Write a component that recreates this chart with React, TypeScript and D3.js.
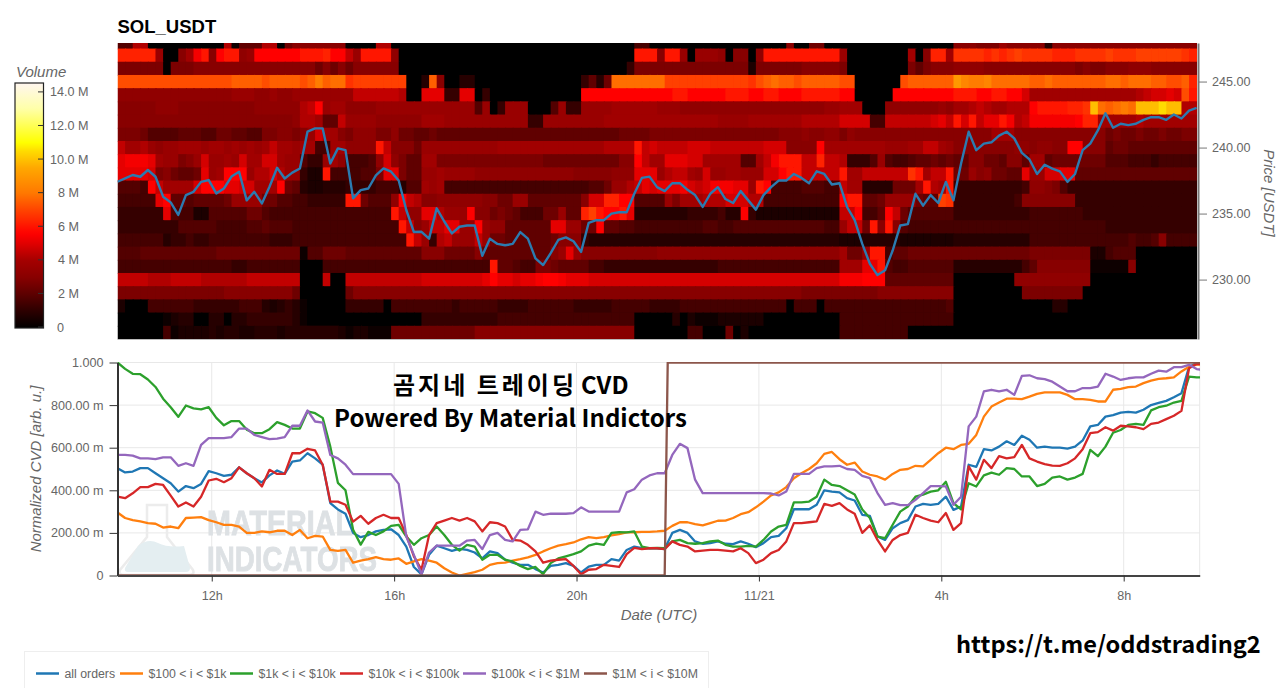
import { useEffect, useRef } from "react";
import * as d3 from "d3";

// one string per price level (top to bottom), one character per 10 min column
// base 36 digit, multiplied by volumeStep to get the volume in millions
const volumeStep = 0.3;
const volumeRows = [
  "66ee000000 0000e1777e e08aaaaaaa 0000ee0000 0000000000 0000000000 0000000055 0000000000 00000000a0 0880000000 0000000000 aaa999caaa aa3aaaaaaa aaaaaaaaaa aa",
  "lllllc00ad ikajkkbcjj jjjjkkkljj fckkkkb000 0000000000 0000000000 00000000kk kakkc0cccb 0aa0bkkkkk kkkkkc0000 0000d0alld mmmmlmlmnm mmmlllmmmm nmmmnnnnnn ml",
  "9999990999 aaaaaaaaaa aaaaaa8a8a 8aaaaaa000 0000000000 0000000000 0000000499 9999999999 9992999999 aaaaa90000 0000979aaa bbbbaaaaaa aaaaaa9a99 aaabbbaaaa aa",
  "oooooooooo oooooppppo ppppoprpqq mnnnnnnn00 3pa0033000 0000000000 04738qqqqq qqnnnnnnnn nnnmopqppo pppppoo000 000opppppp usrrsqqqqq ppqppppppp qqpqqqppoo pl",
  "bbbbbbbbbb bbbbbcccbb cbbccccccc cffffffe00 hhh44hh040 0000000000 0jjjjjjjjj jjjkkjjjjj kkkjjkkjjj kkkkkjj000 00jjjjjjjj kkkjjkkjjg dddddddddd ddddefgghg ok",
  "aaaaabbbaa aaaaaaaabb bbbbefjcdd bbbbcccccc ccccccc6c0 4ccc0006c4 4ccccddddd dcccbbbbbb bbbbbbbbbb bbbccddd00 0bbbbbbbcb ddefeddeee jkkkkllmxq pqrqxxxzxx ee",
  "aaaaaaaaaa aaaaaaaaaa aaabeed77f ccccbbbbbb dddccccccc cccc44cccc ccccdddddd dddddddddc cccddddddd eeeeegggg5 5ffffffghf kgkfhhkief iiiiiijlld ddddeddddd dd",
  "9998666677 7668877669 9aa9acgdda 9bbb99b887 7877777777 7777777777 7777778888 9999999999 9999999aaa baabb9baaa aaaaaaaaaa aaaaadddaa aaaaaaaaaa 8988988988 99",
  "fddecbccdd dcddcdcdcd fddcdd55dd bbbbkfaaa8 cccccccccc dddddddddd ddddeeeekf gffffgggff fffffgggaa aajddddddd dcccddffdc aaaaaaaabb abbaajjaaa 7887777777 77",
  "hiiihdcc9a cgccdcgddg gdcc644cdb 5556bgb977 dd99999999 9999998888 888888aajf ddhhhggddd dd66dfikkk fflffe4446 c655677878 77aa887aa7 dd78888888 6665554555 55",
  "hhhhg9a877 8hcdjjjcee gecc422k55 55669hh977 ccdccccbbb bbbbbbbbbb aaaaabbbhh hceffdcgcc ddcccggjkk fffffkddff ffffmkdffk 88cab8877h ccgghh7777 7777777777 77",
  "6665jfdddd gjjjhhggdd dj87322333 4444555366 dcd5555555 5555555555 55668ccefh ghhhigfgii ihhckj5555 66655fdd33 33888dkedk 4444444445 bba9644444 4444444444 44",
  "55555hj776 77778cccc8 8665544444 kk8666bjfe aabbbbbbaa 88cc777777 7agglljj66 66c9dddeee gggee55555 55555jkk77 8cccc877nm 444444445a aaaaaa4444 4444444444 44",
  "444444h655 2266666886 5555555555 555555kfbb hhecccjaa8 98755588c7 7lnkjjkh33 3333344445 33j4222222 22222ffj55 7jf8666666 4444444444 5555555444 4444444444 44",
  "4444444466 6665555667 6665555555 5555555kfa cffhhccjcb b777777hhc c88j776655 5555555665 5666666666 66655cff8k aka6555555 5555555555 5555555555 4444444444 44",
  "5555553445 4455555555 4445555555 55555555kf c4efcccfc8 87777778aa a433333333 3333333333 3333333333 3333322233 3332222222 3333333333 5555555555 5556556a55 55",
  "6667777777 7778888888 8888166888 7777777777 aaa8888a77 7777777ach caaaaaaaaa abbbbbbbbb bbbbbbbbbb bbbbbd88ck k577888888 8888888888 9999999922 5666000000 00",
  "5555555555 5555544555 5555000555 5555555555 555555555k 7765599877 7755444444 4444444445 5555555555 55555dddhh k655666666 3333333335 7aaaaaaa11 111a000000 00",
  "ffffeeefff feeeeeefff ffff000f00 ffffffffff gggggggghj hhghhijjih hhgggggggg gggggggggg gggggggggg gggggiiijj j777777777 00000000bb bbbbbbbb00 0000000000 00",
  "9999999999 9999aaaaaa aaa8000000 8aaaaaaaaa aaaaaaaaaa aaaaaaaaaa aaaaaaaaaa aaaaaaaaaa aaaaaaaaaa 9999999999 aaaaaaaaaa 0000000009 9999999000 0000000000 00",
  "2000555555 4444445553 2343100000 4444405555 5555455555 4444555555 4444455555 4444555555 5555555505 5505555555 5555555556 0000000000 0003300000 0000000000 00",
  "0000001233 0033033444 4443100000 0000000000 4444444444 5555555555 5555555500 0003021112 2222200000 0000055555 5555555555 0000000000 0000000000 0000000000 00",
  "0000005122 2232332233 3233333332 1221118888 8888888aaa aaaaaaaaaa aaaaaaaa00 0000055000 8020000000 0000055555 5555000000 0000000000 0000000000 0000000000 00",
];

// mid price, 10 min steps
const priceSeries = [
  237.41, 237.66, 237.92, 237.79, 238.3, 237.79, 236.28, 235.85, 234.9, 236.4,
  236.65, 237.4, 237.54, 236.53, 236.9, 237.8, 238.17, 236, 236.65, 235.77,
  237.03, 238.47, 237.66, 238.1, 238.42, 241.2, 241.45, 241.45, 238.8, 239.94,
  239.8, 236.15, 236.78, 236.9, 237.9, 238.42, 238.17, 237.5, 235.27, 233.6,
  233.62, 233.1, 235.4, 234.4, 233.5, 234, 234.1, 234.1, 231.8, 233.1,
  232.7, 232.6, 232.7, 233.6, 233.1, 231.6, 231.1, 232, 233, 233.2,
  232.9, 232.1, 234.3, 234.5, 234.5, 235, 235.1, 235.1, 236.5, 237.7,
  237.8, 237, 236.7, 237.3, 237.3, 236.8, 236.4, 235.5, 236.5, 237,
  236.1, 235.8, 236.7, 236, 235.3, 236.4, 237, 237.5, 237.5, 238,
  237.7, 237.3, 238.2, 238, 237.2, 237.3, 235.5, 234.5, 232.7, 231.2,
  230.34, 230.7, 232.2, 234.1, 234.2, 236.5, 235.6, 236.4, 235.8, 237.4,
  236, 238.8, 241.2, 239.8, 240.3, 240.4, 240.9, 241.2, 240.7, 239.6,
  239.1, 238, 238.7, 238.4, 238.2, 237.4, 238, 239.8, 240.3, 241.3,
  242.6, 241.5, 241.8, 241.7, 241.8, 242.1, 242.3, 242.3, 242.1, 242.5,
  242.2, 242.8, 243,
];

// normalized CVD, 10 min steps
const allOrders = [
  .504, .484, .488, .504, .504, .48, .457, .433, .394, .42,
  .41, .43, .49, .48, .468, .473, .508, .48, .457, .437,
  .47, .493, .477, .535, .54, .574, .55, .52, .34, .31,
  .29, .2, .18, .19, .207, .214, .217, .19, .136, .04,
  .005, .097, .14, .128, .116, .125, .12, .108, .08, .113,
  .105, .074, .06, .05, .05, .03, .014, .045, .05, .058,
  .045, .014, .042, .05, .05, .077, .07, .12, .136, .128,
  .128, .128, .124, .2, .214, .2, .16, .149, .152, .16,
  .149, .147, .16, .149, .133, .152, .18, .186, .222, .311,
  .311, .311, .332, .4, .394, .39, .363, .352, .285, .28,
  .183, .167, .222, .246, .26, .324, .336, .332, .336, .37,
  .308, .324, .52, .51, .593, .587, .605, .63, .613, .656,
  .637, .6, .605, .6, .6, .596, .605, .634, .7, .707,
  .746, .753, .765, .768, .765, .778, .8, .81, .82, .837,
  .856, .98, .997, .995,
];
const orders100to1k = [
  .296, .27, .26, .254, .246, .243, .225, .23, .222, .27,
  .272, .274, .26, .25, .238, .238, .23, .2, .2, .207,
  .203, .21, .21, .19, .214, .175, .186, .183, .12, .116,
  .12, .06, .07, .077, .086, .077, .074, .08, .055, .066,
  .077, .07, .06, .034, .014, 0, .008, .016, .027, .05,
  .058, .06, .07, .077, .085, .097, .113, .128, .14, .147,
  .155, .17, .18, .175, .18, .188, .194, .202, .203, .205,
  .205, .207, .21, .233, .25, .25, .241, .235, .246, .257,
  .258, .27, .288, .297, .32, .347, .376, .39, .415, .457,
  .48, .5, .527, .571, .58, .546, .52, .53, .488, .473,
  .465, .45, .477, .496, .5, .515, .512, .543, .574, .6,
  .593, .613, .618, .66, .746, .793, .812, .83, .83, .828,
  .84, .853, .86, .86, .86, .848, .828, .828, .825, .817,
  .817, .872, .876, .884, .887, .903, .915, .923, .926, .93,
  .958, .98, .99, .99,
];
const orders1kto10k = [
  1, .97, .947, .945, .92, .885, .83, .79, .745, .798,
  .785, .78, .79, .74, .705, .725, .725, .685, .668, .668,
  .687, .72, .707, .69, .69, .77, .762, .74, .605, .435,
  .4, .215, .145, .205, .19, .207, .233, .238, .183, .144,
  .175, .19, .23, .19, .144, .117, .144, .136, .074, .097,
  .097, .074, .066, .045, .03, .04, .006, .058, .08, .09,
  .1, .113, .14, .15, .144, .2, .203, .202, .207, .136,
  .128, .13, .128, .16, .167, .152, .149, .152, .16, .164,
  .144, .136, .136, .139, .136, .167, .207, .23, .238, .343,
  .343, .347, .37, .45, .425, .42, .4, .38, .31, .27,
  .183, .175, .238, .3, .324, .37, .38, .394, .4, .44,
  .34, .31, .433, .418, .47, .483, .473, .504, .5, .465,
  .465, .42, .43, .46, .465, .45, .46, .477, .59, .56,
  .605, .67, .683, .707, .712, .707, .775, .79, .797, .812,
  .82, .934, .93, .93,
];
const orders10kto100k = [
  .37, .363, .386, .415, .415, .43, .425, .375, .324, .343,
  .324, .37, .446, .454, .438, .457, .508, .48, .457, .418,
  .496, .477, .477, .574, .574, .595, .587, .52, .347, .347,
  .332, .253, .28, .243, .27, .285, .27, .27, .19, .09,
  .027, .19, .246, .258, .27, .258, .27, .254, .207, .25,
  .246, .23, .167, .164, .144, .113, .06, .07, .074, .077,
  .045, .006, .027, .03, .05, .045, .04, .1, .13, .124,
  .128, .128, .124, .16, .144, .136, .113, .117, .12, .12,
  .117, .113, .128, .105, .058, .074, .105, .12, .16, .246,
  .246, .25, .254, .336, .327, .34, .31, .29, .2, .235,
  .167, .113, .167, .19, .2, .285, .27, .258, .25, .293,
  .214, .246, .512, .45, .543, .504, .56, .55, .556, .613,
  .55, .535, .523, .516, .515, .527, .55, .593, .668, .673,
  .696, .68, .703, .7, .696, .687, .712, .718, .734, .75,
  .773, .973, .994, .99,
];
const orders100kto1m = [
  .566, .566, .563, .55, .55, .546, .555, .555, .515, .527,
  .515, .613, .645, .645, .645, .65, .69, .69, .66, .65,
  .64, .643, .65, .703, .703, .775, .723, .718, .566, .55,
  .52, .476, .476, .476, .476, .476, .476, .43, .183, .097,
  .006, .108, .14, .14, .14, .14, .164, .167, .124, .19,
  .2, .167, .16, .214, .217, .3, .285, .29, .29, .29,
  .293, .32, .3, .3, .3, .3, .3, .39, .405, .45,
  .47, .48, .48, .566, .618, .598, .45, .387, .387, .387,
  .387, .387, .387, .387, .387, .387, .385, .376, .394, .477,
  .477, .477, .504, .512, .512, .515, .5, .496, .468, .457,
  .387, .332, .34, .33, .33, .355, .387, .42, .42, .418,
  .332, .37, .7, .746, .864, .872, .864, .872, .848, .937,
  .94, .926, .922, .91, .887, .865, .865, .88, .88, .887,
  .947, .934, .918, .926, .93, .93, .947, .962, .957, .978,
  .978, .989, .969, .965,
];
// this one only has its jump, so it keeps its own step positions
const orders1mto10mSteps = [0, 72, 72.4, 143];
const orders1mto10m = [0, 0, 1, 1];

const seriesNames = ["all orders", "$100 < i < $1k", "$1k < i < $10k", "$10k < i < $100k", "$100k < i < $1M", "$1M < i < $10M"];
const seriesColors = ["#1f77b4", "#ff7f0e", "#2ca02c", "#d62728", "#9467bd", "#8c564b"];
const seriesValues = [allOrders, orders100to1k, orders1kto10k, orders10kto100k, orders100kto1m];

const volumeTicks = [0, 2, 4, 6, 8, 10, 12, 14];
const priceTicks = [230, 235, 240, 245];
const cvdTicks = [0, 0.2, 0.4, 0.6, 0.8, 1];
const timeTickLabels = ["12h", "16h", "20h", "11/21", "4h", "8h"];
const timeTicks = [
  Date.UTC(2024, 10, 20, 12),
  Date.UTC(2024, 10, 20, 16),
  Date.UTC(2024, 10, 20, 20),
  Date.UTC(2024, 10, 21, 0),
  Date.UTC(2024, 10, 21, 4),
  Date.UTC(2024, 10, 21, 8),
];

const startTime = Date.UTC(2024, 10, 20, 9, 56);
const endTime = Date.UTC(2024, 10, 21, 9, 40);
const tenMin = 10 * 60 * 1000;

const sans = "'Liberation Sans', Arial, sans-serif";
const korean = "'Noto Sans CJK KR', 'Noto Sans', sans-serif";
const grey = "#666";

function App() {
  const ref = useRef<SVGSVGElement>(null);

  useEffect(() => {
    const svg = d3.select(ref.current);
    svg.selectAll("*").remove(); // Clear before redraw

    const x = d3.scaleUtc().domain([startTime, endTime]).range([117.5, 1199.7]);
    const xAt = (i: number) => x(startTime + i * tenMin);
    const yPrice = d3.scaleLinear().domain([225.5, 247.92]).range([339, 43]);
    const yCvd = d3.scaleLinear().domain([0, 1]).range([575.5, 362.5]);
    const yVolume = d3.scaleLinear().domain([0, 14.53]).range([327, 83]);

    const heatColor = d3
      .scaleLinear<string>()
      .domain([0, 1, 2, 3, 4, 5, 5.6, 7, 8, 9.5, 10.5, 11, 13, 14.53])
      .range(["#000000", "#2c0000", "#5c0000", "#880000", "#a40000", "#e00000", "#ff0000", "#ff4400", "#ff7800", "#ffa800", "#ffdc00", "#ffff00", "#ffffa8", "#fff6f0"])
      .clamp(true);

    const defs = svg.append("defs");
    defs.append("clipPath").attr("id", "heat-clip").append("rect").attr("x", 117.5).attr("y", 43).attr("width", 1079.5).attr("height", 296);
    defs.append("clipPath").attr("id", "cvd-clip").append("rect").attr("x", 110).attr("y", 362).attr("width", 1090).attr("height", 214);
    defs.append("filter").attr("id", "soft").append("feGaussianBlur").attr("stdDeviation", 0.45);

    // ---- heatmap
    svg
      .append("text")
      .text("SOL_USDT")
      .attr("x", 117.5)
      .attr("y", 33)
      .attr("font-family", sans)
      .attr("font-weight", "bold")
      .attr("font-size", 18.5);

    const heat = svg.append("g").attr("clip-path", "url(#heat-clip)").append("g").attr("filter", "url(#soft)");
    volumeRows.forEach((row, r) => {
      const cells = row.replace(/ /g, "").split("");
      const top = yPrice(247.5 - r + 1);
      const bottom = yPrice(247.5 - r);
      heat
        .selectAll(null)
        .data(cells)
        .join("rect")
        .attr("x", (_, i) => xAt(i))
        .attr("width", (_, i) => xAt(i + 1) - xAt(i) + 1)
        .attr("y", top)
        .attr("height", bottom - top + 1)
        .attr("fill", (c) => heatColor(parseInt(c, 36) * volumeStep));
    });

    const priceLine = d3
      .line<number>()
      .x((_, i) => xAt(i))
      .y((d) => yPrice(d));
    svg
      .append("path")
      .datum(priceSeries)
      .attr("d", priceLine)
      .attr("clip-path", "url(#heat-clip)")
      .attr("fill", "none")
      .attr("stroke", "#2b7bb0")
      .attr("stroke-width", 2.4)
      .attr("stroke-linejoin", "round");

    svg
      .append("line")
      .attr("x1", 117.5)
      .attr("x2", 1197)
      .attr("y1", 339.5)
      .attr("y2", 339.5)
      .attr("stroke", "#bbb");

    const priceAxis = svg.append("g").attr("transform", "translate(1198,0)");
    priceAxis.call(
      d3
        .axisRight(yPrice)
        .tickValues(d3.range(226, 248))
        .tickSize(5)
        .tickFormat(() => "")
        .tickSizeOuter(0)
    );
    priceAxis.call(
      d3
        .axisRight(yPrice)
        .tickValues(priceTicks)
        .tickSize(9)
        .tickPadding(5)
        .tickFormat((d) => (d as number).toFixed(2))
        .tickSizeOuter(0)
    );
    priceAxis.selectAll("path.domain").attr("stroke", "#777").attr("stroke-width", 2);
    priceAxis.selectAll("line").attr("stroke", "#777");
    priceAxis.selectAll("text").attr("fill", grey).attr("font-family", sans).attr("font-size", 12.6);

    svg
      .append("text")
      .text("Price [USDT]")
      .attr("transform", "translate(1264,193) rotate(90)")
      .attr("text-anchor", "middle")
      .attr("font-family", sans)
      .attr("font-style", "italic")
      .attr("font-size", 15)
      .attr("fill", grey);

    // ---- colour bar
    svg
      .append("text")
      .text("Volume")
      .attr("x", 16)
      .attr("y", 77)
      .attr("font-family", sans)
      .attr("font-style", "italic")
      .attr("font-size", 15)
      .attr("fill", grey);

    const gradient = defs
      .append("linearGradient")
      .attr("id", "volume-gradient")
      .attr("x1", 0)
      .attr("x2", 0)
      .attr("y1", 1)
      .attr("y2", 0);
    d3.range(0, 14.6, 0.25).forEach((v) => {
      gradient
        .append("stop")
        .attr("offset", v / 14.53)
        .attr("stop-color", heatColor(v));
    });
    svg
      .append("rect")
      .attr("x", 15)
      .attr("y", yVolume(14.53))
      .attr("width", 28.5)
      .attr("height", yVolume(0) - yVolume(14.53) + 1)
      .attr("fill", "url(#volume-gradient)")
      .attr("stroke", "#222")
      .attr("stroke-width", 1.2);

    const volumeTick = svg.selectAll(null).data(volumeTicks).join("g");
    volumeTick
      .append("line")
      .attr("x1", 38)
      .attr("x2", 43.5)
      .attr("y1", (d) => yVolume(d))
      .attr("y2", (d) => yVolume(d))
      .attr("stroke", "#333");
    volumeTick
      .append("text")
      .text((d) => (d === 0 ? "0" : d >= 10 ? `${d.toFixed(1)} M` : `${d} M`))
      .attr("x", (d) => (d === 0 ? 57 : d >= 10 ? 50 : 58))
      .attr("y", (d) => yVolume(d) + 4.5)
      .attr("font-family", sans)
      .attr("font-size", 12.6)
      .attr("fill", grey);

    // ---- CVD panel
    const grid = svg.append("g").attr("stroke", "#e8e8e8");
    grid
      .selectAll(null)
      .data(cvdTicks)
      .join("line")
      .attr("x1", 117.5)
      .attr("x2", 1199.7)
      .attr("y1", (d) => yCvd(d))
      .attr("y2", (d) => yCvd(d));
    grid
      .selectAll(null)
      .data([...timeTicks, endTime])
      .join("line")
      .attr("x1", (d) => x(d))
      .attr("x2", (d) => x(d))
      .attr("y1", 362.5)
      .attr("y2", 575.5);

    // watermark behind the lines
    const mark = svg.append("g").attr("filter", "url(#soft)");
    mark
      .append("path")
      .attr("d", "M147,505 h20 v32 l26,33 q2,5 -4,5 h-65 q-6,0 -4,-5 l27,-33 z")
      .attr("fill", "none")
      .attr("stroke", "#ececec")
      .attr("stroke-width", 2.5);
    mark
      .append("path")
      .attr("d", "M138,546 q10,-8 20,-3 t26,3 l6,22 q0,4 -4,4 h-58 q-4,0 -3,-4 z")
      .attr("fill", "#e4eef1");
    [
      ["MATERIAL", 535, 146],
      ["INDICATORS", 571, 170],
    ].forEach(([label, y, width]) => {
      mark
        .append("text")
        .text(label as string)
        .attr("x", 207)
        .attr("y", y as number)
        .attr("textLength", width as number)
        .attr("lengthAdjust", "spacingAndGlyphs")
        .attr("font-family", "'Liberation Sans Narrow', 'Liberation Sans', sans-serif")
        .attr("font-weight", "bold")
        .attr("font-size", 35)
        .attr("fill", "#dde1e4")
        .attr("stroke", "#dde1e4")
        .attr("stroke-width", 0.8);
    });

    const cvdLine = d3
      .line<number>()
      .x((_, i) => xAt(i))
      .y((d) => yCvd(d));
    const lines = svg
      .append("g")
      .attr("clip-path", "url(#cvd-clip)")
      .attr("fill", "none")
      .attr("stroke-width", 2.3)
      .attr("stroke-linejoin", "round");
    seriesValues.forEach((values, s) => {
      lines.append("path").datum(values).attr("d", cvdLine).attr("stroke", seriesColors[s]);
    });
    lines
      .append("path")
      .datum(orders1mto10m)
      .attr(
        "d",
        d3
          .line<number>()
          .x((_, i) => xAt(orders1mto10mSteps[i]))
          .y((d) => yCvd(d))
      )
      .attr("stroke", seriesColors[5]);

    const yAxis = svg.append("g").attr("transform", "translate(117.5,0)");
    yAxis.call(
      d3
        .axisLeft(yCvd)
        .tickValues(d3.range(0, 1.001, 0.04))
        .tickSize(6)
        .tickFormat(() => "")
        .tickSizeOuter(0)
    );
    yAxis.call(
      d3
        .axisLeft(yCvd)
        .tickValues(cvdTicks)
        .tickSize(8)
        .tickPadding(6)
        .tickFormat((d) => {
          const v = d as number;
          if (v === 0) return "0";
          if (v === 1) return "1.000";
          return `${(v * 1000).toFixed(2)} m`;
        })
        .tickSizeOuter(0)
    );
    yAxis.selectAll("path.domain").attr("stroke", "#333").attr("stroke-width", 2);
    yAxis.selectAll("line").attr("stroke", "#333");
    yAxis.selectAll("text").attr("fill", grey).attr("font-family", sans).attr("font-size", 12.6);

    const xAxis = svg.append("g").attr("transform", "translate(0,575.5)");
    xAxis.call(
      d3
        .axisBottom(x)
        .tickValues(timeTicks.map((t) => new Date(t)))
        .tickSize(6)
        .tickPadding(10)
        .tickFormat((_, i) => timeTickLabels[i])
        .tickSizeOuter(0)
    );
    xAxis.selectAll("path.domain").attr("stroke", "#444").attr("stroke-width", 2);
    xAxis.selectAll("line").attr("stroke", "#333");
    xAxis.selectAll("text").attr("fill", grey).attr("font-family", sans).attr("font-size", 12.6);

    svg
      .append("text")
      .text("Normalized CVD [arb. u.]")
      .attr("transform", "translate(41,469) rotate(-90)")
      .attr("text-anchor", "middle")
      .attr("font-family", sans)
      .attr("font-style", "italic")
      .attr("font-size", 15)
      .attr("fill", grey);
    svg
      .append("text")
      .text("Date (UTC)")
      .attr("x", 659)
      .attr("y", 620)
      .attr("text-anchor", "middle")
      .attr("font-family", sans)
      .attr("font-style", "italic")
      .attr("font-size", 15)
      .attr("fill", grey);

    // ---- overlaid captions
    const caption = (label: string, left: number, y: number, size: number, spacing: number) =>
      svg
        .append("text")
        .text(label)
        .attr("x", left)
        .attr("y", y)
        .attr("font-family", korean)
        .attr("font-weight", "bold")
        .attr("font-size", size)
        .attr("letter-spacing", spacing)
        .attr("fill", "#000");
    caption("곰지네 트레이딩", 393, 394, 24, 3);
    caption("CVD", 581, 394, 24, 0);
    caption("Powered By Material Indictors", 334, 427, 24, 0);
    caption("https://t.me/oddstrading2", 956, 653, 23.6, 0);

    // ---- legend
    svg
      .append("rect")
      .attr("x", 24.5)
      .attr("y", 651.5)
      .attr("width", 684)
      .attr("height", 50)
      .attr("fill", "#fff")
      .attr("stroke", "#eee");
    const legendLineX = [36, 120, 230, 340, 463, 584];
    const legend = svg
      .selectAll(null)
      .data(seriesNames)
      .join("g")
      .attr("transform", (_, i) => `translate(${legendLineX[i]},673.5)`);
    legend.append("line").attr("x2", 23).attr("stroke", (_, i) => seriesColors[i]).attr("stroke-width", 2.5);
    legend
      .append("text")
      .text((d) => d)
      .attr("x", 28.5)
      .attr("y", 4.5)
      .attr("font-family", sans)
      .attr("font-size", 12.3)
      .attr("fill", grey);
  }, []);

  return <svg ref={ref} width={1280} height={688} style={{ position: "absolute", left: 0, top: 0 }}></svg>;
}

export default App;
